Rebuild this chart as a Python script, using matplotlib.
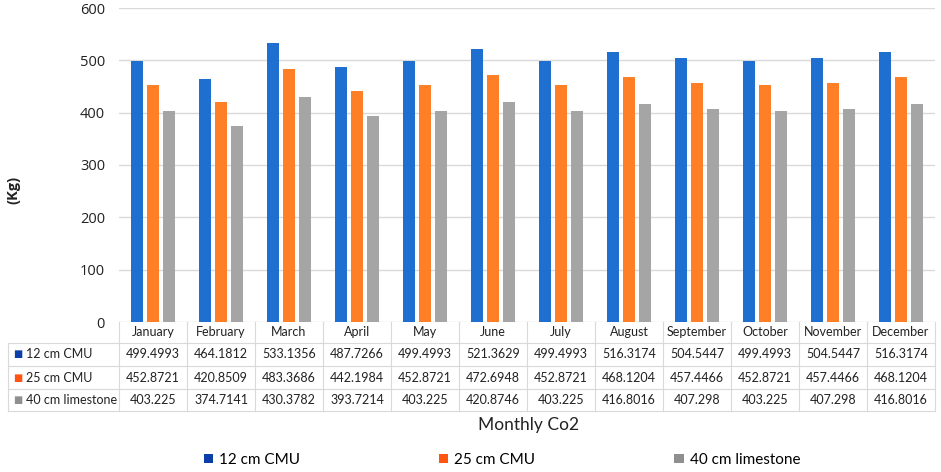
import numpy as np
import matplotlib.pyplot as plt
from matplotlib.patches import Patch
import matplotlib.transforms as mtransforms

months = ['January', 'February', 'March', 'April', 'May', 'June', 'July',
          'August', 'September', 'October', 'November', 'December']
series_names = ['12 cm CMU', '25 cm CMU', '40 cm limestone']
cmu12 = [499.4993, 464.1812, 533.1356, 487.7266, 499.4993, 521.3629,
         499.4993, 516.3174, 504.5447, 499.4993, 504.5447, 516.3174]
cmu25 = [452.8721, 420.8509, 483.3686, 442.1984, 452.8721, 472.6948,
         452.8721, 468.1204, 457.4466, 452.8721, 457.4466, 468.1204]
lime40 = [403.225, 374.7141, 430.3782, 393.7214, 403.225, 420.8746,
          403.225, 416.8016, 407.298, 403.225, 407.298, 416.8016]
series = [cmu12, cmu25, lime40]

bar_colors = ['#1f6fd0', '#ff7f27', '#a5a5a5']
key_colors = ['#0b3ea8', '#ff5511', '#8f8f8f']
grid_col = '#d9d9d9'

fig = plt.figure(figsize=(9.41, 4.72), dpi=100)
ax = fig.add_axes([119/941, 1-322/472, 816/941, 314/472])

x = np.arange(len(months))
offsets = [-0.23, 0, 0.23]
for vals, off, c in zip(series, offsets, bar_colors):
    ax.bar(x + off, vals, width=0.18, color=c, zorder=3)

ax.set_xlim(-0.5, 11.5)
ax.set_ylim(0, 600)
ax.set_yticks(range(0, 601, 100))
ax.set_xticks([])
ax.grid(axis='y', color=grid_col, linewidth=1, zorder=0)
for s in ax.spines.values():
    s.set_visible(False)
ax.tick_params(axis='y', length=0, pad=10, labelsize=10.5, colors='#222222')
for lab in ax.get_yticklabels():
    lab.set_fontfamily('Open Sans')
ax.set_ylabel('(Kg)', fontsize=10.5, fontweight='bold', family='Open Sans',
              color='#222222')
ax.yaxis.set_label_coords(-0.121, 0.42)

# data table under the bars
trans = mtransforms.blended_transform_factory(ax.transData, ax.transAxes)
ph = 314.0
row_y = [0, -21/ph, -44/ph, -67/ph, -89/ph]
left_x = -0.5 - 111/68.0
lw = 0.8
for xe in np.arange(-0.5, 12.0, 1.0):
    ax.plot([xe, xe], [row_y[0], row_y[-1]], color=grid_col, lw=lw,
            transform=trans, clip_on=False)
ax.plot([left_x, left_x], [row_y[1], row_y[-1]], color=grid_col, lw=lw,
        transform=trans, clip_on=False)
for yy in row_y[1:]:
    ax.plot([left_x, 11.5], [yy, yy], color=grid_col, lw=lw,
            transform=trans, clip_on=False)

tfont = dict(family='Lato', fontsize=9, color='#222222')
hy = (row_y[0] + row_y[1]) / 2
for i, m in enumerate(months):
    ax.text(i, hy, m, ha='center', va='center', transform=trans, **tfont)
for r, (name, vals) in enumerate(zip(series_names, series)):
    yc = (row_y[r+1] + row_y[r+2]) / 2
    ax.text(left_x + 0.08, yc, '\u25a0', color=key_colors[r], fontsize=7,
            family='DejaVu Sans', ha='left', va='center', transform=trans)
    ax.text(left_x + 0.26, yc, name, ha='left', va='center',
            transform=trans, **tfont)
    for i, v in enumerate(vals):
        ax.text(i, yc, str(v), ha='center', va='center',
                transform=trans, **tfont)

fig.text(529/941, 1-425/472, 'Monthly Co2', ha='center', va='center',
         family='Lato', fontsize=12.5, color='#222222')

handles = [Patch(facecolor=c, edgecolor='none') for c in key_colors]
fig.legend(handles, series_names, loc='center', ncol=3,
           bbox_to_anchor=(502/941, 1-460/472), frameon=False,
           prop={'family': 'Lato', 'size': 11}, handlelength=0.6,
           handleheight=0.6, handletextpad=0.4, columnspacing=9.1)

fig.savefig('out.png', dpi=100)
